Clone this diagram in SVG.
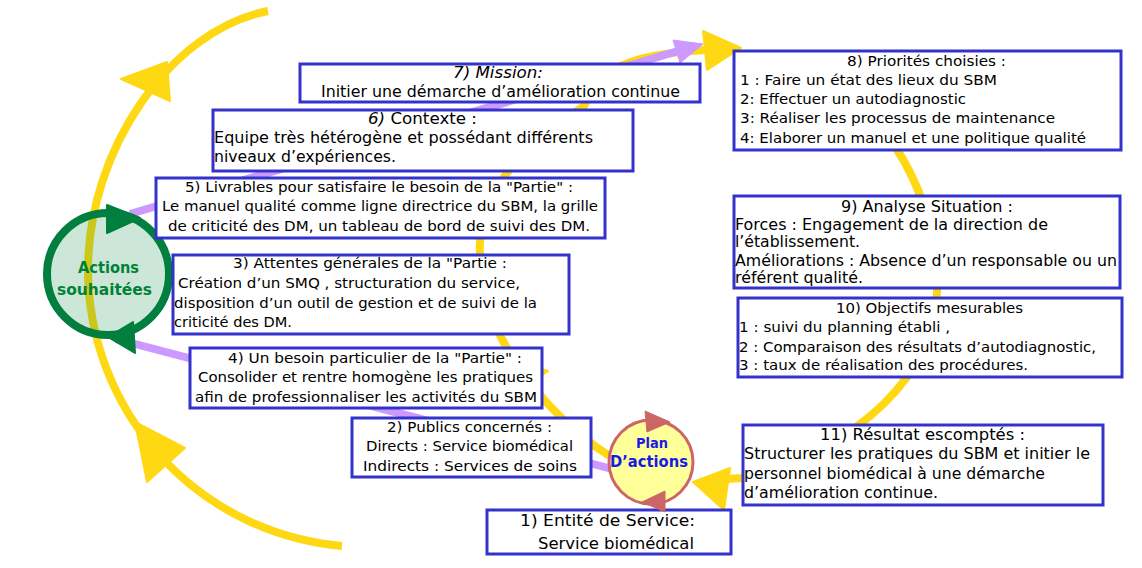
<svg xmlns="http://www.w3.org/2000/svg" width="1142" height="568" viewBox="0 0 1142 568">
<style>
.box{fill:#fff;stroke:#3333CC;stroke-width:3}
.t{font-family:"DejaVu Sans",Verdana,sans-serif;fill:#000}
.s14{font-size:14px}
.s15{font-size:15px}
.s16{font-size:16px}
.yl{fill:none;stroke:#FFD814;stroke-width:8}
.ya{fill:#FFD814;stroke:#FFD814;stroke-width:2;stroke-linejoin:round}
.pl{fill:none;stroke:#CC99FF;stroke-width:8}
.pa{fill:#CC99FF;stroke:#CC99FF;stroke-width:1;stroke-linejoin:round}
</style>
<rect width="1142" height="568" fill="#fff"/>
<g id="connectors">
  <path class="yl" d="M342,546 A278,278 0 0 1 88,270 C88,150 170,30 268,11"/>
  <polygon class="ya" points="121,79 167,62 170,101"/>
  <polygon class="ya" points="135,422 185,448 147,482"/>
  <path class="yl" d="M620,462 C560,430 478,340 480,255 C476,200 515,150 584,106 C600,72 620,55 705,50"/>
  <polygon class="ya" points="703,31 707,70 741,48"/>
  <polygon class="ya" points="548,371 505,402 500,356"/>
  <path class="yl" d="M880,125 C915,170 940,230 937,292 C937,370 860,450 742,478 L726,479"/>
  <polygon class="ya" points="693,482 730,468 724,510"/>
  <path class="pl" d="M130,214 L678,51"/>
  <polygon class="pa" points="673,40 680,63 703,44"/>
  <path class="pl" d="M116,339 L612,469"/>
</g>
<g id="node-actions">
  <circle cx="108" cy="274" r="61" fill="#00853A" fill-opacity="0.2" stroke="#007F3F" stroke-width="8"/>
  <polygon points="107,205 107,233 140,218" fill="#007F3F" stroke="#007F3F" stroke-width="2" stroke-linejoin="round"/>
  <polygon points="133,322 135,353 108,337" fill="#007F3F" stroke="#007F3F" stroke-width="2" stroke-linejoin="round"/>
  <text class="t s16" x="78" y="273" textLength="61" lengthAdjust="spacingAndGlyphs" font-weight="bold" style="fill:#008236">Actions</text>
  <text class="t s16" x="57" y="295" textLength="95" lengthAdjust="spacingAndGlyphs" font-weight="bold" style="fill:#008236">souhaitées</text>
</g>
<g id="node-7">
  <rect class="box" x="300" y="64" width="400" height="38"/>
  <text class="t s16" x="453" y="78" textLength="90" lengthAdjust="spacingAndGlyphs" font-style="italic">7) Mission:</text>
  <text class="t s16" x="321" y="97" textLength="359" lengthAdjust="spacingAndGlyphs">Initier une démarche d’amélioration continue</text>
</g>
<g id="node-6">
  <rect class="box" x="213" y="110" width="420" height="61"/>
  <text class="t s16" x="368" y="124" textLength="109" lengthAdjust="spacingAndGlyphs"><tspan font-style="italic">6)</tspan> Contexte :</text>
  <text class="t s16" x="214" y="143" textLength="379" lengthAdjust="spacingAndGlyphs">Equipe très hétérogène et possédant différents</text>
  <text class="t s16" x="214" y="162" textLength="182" lengthAdjust="spacingAndGlyphs">niveaux d’expériences.</text>
</g>
<g id="node-5">
  <rect class="box" x="156" y="178" width="449" height="60"/>
  <text class="t s14" x="185" y="192" textLength="388" lengthAdjust="spacingAndGlyphs">5) Livrables pour satisfaire le besoin de la "Partie" :</text>
  <text class="t s14" x="162" y="211" textLength="436" lengthAdjust="spacingAndGlyphs">Le manuel qualité comme ligne directrice du SBM, la grille</text>
  <text class="t s14" x="168" y="231" textLength="422" lengthAdjust="spacingAndGlyphs">de criticité des DM, un tableau de bord de suivi des DM.</text>
</g>
<g id="node-3">
  <rect class="box" x="173" y="255" width="396" height="79"/>
  <text class="t s14" x="233" y="268" textLength="274" lengthAdjust="spacingAndGlyphs">3) Attentes générales de la "Partie :</text>
  <text class="t s14" x="178" y="288" textLength="342" lengthAdjust="spacingAndGlyphs">Création d’un SMQ , structuration du service,</text>
  <text class="t s14" x="174" y="308" textLength="363" lengthAdjust="spacingAndGlyphs">disposition d’un outil de gestion et de suivi de la</text>
  <text class="t s14" x="174" y="327" textLength="118" lengthAdjust="spacingAndGlyphs">criticité des DM.</text>
</g>
<g id="node-4">
  <rect class="box" x="190" y="348" width="352" height="60"/>
  <text class="t s14" x="228" y="363" textLength="294" lengthAdjust="spacingAndGlyphs">4) Un besoin particulier de la "Partie" :</text>
  <text class="t s14" x="198" y="382" textLength="335" lengthAdjust="spacingAndGlyphs">Consolider et rentre homogène les pratiques</text>
  <text class="t s14" x="195" y="402" textLength="342" lengthAdjust="spacingAndGlyphs">afin de professionnaliser les activités du SBM</text>
</g>
<g id="node-2">
  <rect class="box" x="352" y="418" width="239" height="59"/>
  <text class="t s14" x="387" y="432" textLength="165" lengthAdjust="spacingAndGlyphs">2) Publics concernés :</text>
  <text class="t s14" x="366" y="451" textLength="207" lengthAdjust="spacingAndGlyphs">Directs : Service biomédical</text>
  <text class="t s14" x="363" y="471" textLength="214" lengthAdjust="spacingAndGlyphs">Indirects : Services de soins</text>
</g>
<g id="node-1">
  <rect class="box" x="487" y="510" width="244" height="44"/>
  <text class="t s16" x="520" y="526" textLength="175" lengthAdjust="spacingAndGlyphs">1) Entité de Service:</text>
  <text class="t s16" x="538" y="549" textLength="156" lengthAdjust="spacingAndGlyphs">Service biomédical</text>
</g>
<g id="node-8">
  <rect class="box" x="734" y="51" width="387" height="99"/>
  <text class="t s14" x="847" y="66" textLength="159" lengthAdjust="spacingAndGlyphs">8) Priorités choisies :</text>
  <text class="t s14" x="740" y="85" textLength="257" lengthAdjust="spacingAndGlyphs">1 : Faire un état des lieux du SBM</text>
  <text class="t s14" x="740" y="104" textLength="226" lengthAdjust="spacingAndGlyphs">2: Effectuer un autodiagnostic</text>
  <text class="t s14" x="740" y="123" textLength="315" lengthAdjust="spacingAndGlyphs">3: Réaliser les processus de maintenance</text>
  <text class="t s14" x="740" y="143" textLength="346" lengthAdjust="spacingAndGlyphs">4: Elaborer un manuel et une politique qualité</text>
</g>
<g id="node-9">
  <rect class="box" x="734" y="196" width="386" height="92"/>
  <text class="t s15" x="841" y="212" textLength="172" lengthAdjust="spacingAndGlyphs">9) Analyse Situation :</text>
  <text class="t s15" x="735" y="230" textLength="313" lengthAdjust="spacingAndGlyphs">Forces : Engagement de la direction de</text>
  <text class="t s15" x="735" y="247" textLength="125" lengthAdjust="spacingAndGlyphs">l’établissement.</text>
  <text class="t s15" x="735" y="266" textLength="382" lengthAdjust="spacingAndGlyphs">Améliorations : Absence d’un responsable ou un</text>
  <text class="t s15" x="735" y="283" textLength="128" lengthAdjust="spacingAndGlyphs">référent qualité.</text>
</g>
<g id="node-10">
  <rect class="box" x="738" y="298" width="384" height="79"/>
  <text class="t s14" x="836" y="313" textLength="187" lengthAdjust="spacingAndGlyphs">10) Objectifs mesurables</text>
  <text class="t s14" x="739" y="332" textLength="211" lengthAdjust="spacingAndGlyphs">1 : suivi du planning établi ,</text>
  <text class="t s14" x="739" y="352" textLength="357" lengthAdjust="spacingAndGlyphs">2 : Comparaison des résultats d’autodiagnostic,</text>
  <text class="t s14" x="739" y="370" textLength="289" lengthAdjust="spacingAndGlyphs">3 : taux de réalisation des procédures.</text>
</g>
<g id="node-11">
  <rect class="box" x="743" y="425" width="360" height="80"/>
  <text class="t s15" x="820" y="440" textLength="205" lengthAdjust="spacingAndGlyphs">11) Résultat escomptés :</text>
  <text class="t s15" x="744" y="459" textLength="346" lengthAdjust="spacingAndGlyphs">Structurer les pratiques du SBM et initier le</text>
  <text class="t s15" x="744" y="479" textLength="301" lengthAdjust="spacingAndGlyphs">personnel biomédical à une démarche</text>
  <text class="t s15" x="744" y="498" textLength="194" lengthAdjust="spacingAndGlyphs">d’amélioration continue.</text>
</g>
<g id="node-plan">
  <circle cx="651" cy="462" r="42" fill="#FFFF99" stroke="#CC6666" stroke-width="3"/>
  <polygon points="645,411 647,432 670,422" fill="#CC6666" stroke="#CC6666" stroke-width="1" stroke-linejoin="round"/>
  <polygon points="665,491 665,512 642,502" fill="#CC6666" stroke="#CC6666" stroke-width="1" stroke-linejoin="round"/>
  <text class="t" x="636" y="448" font-size="14" textLength="32" lengthAdjust="spacingAndGlyphs" font-weight="bold" style="fill:#1A1AE6">Plan</text>
  <text class="t s16" x="610" y="467" textLength="78" lengthAdjust="spacingAndGlyphs" font-weight="bold" style="fill:#1A1AE6">D’actions</text>
</g>
</svg>
